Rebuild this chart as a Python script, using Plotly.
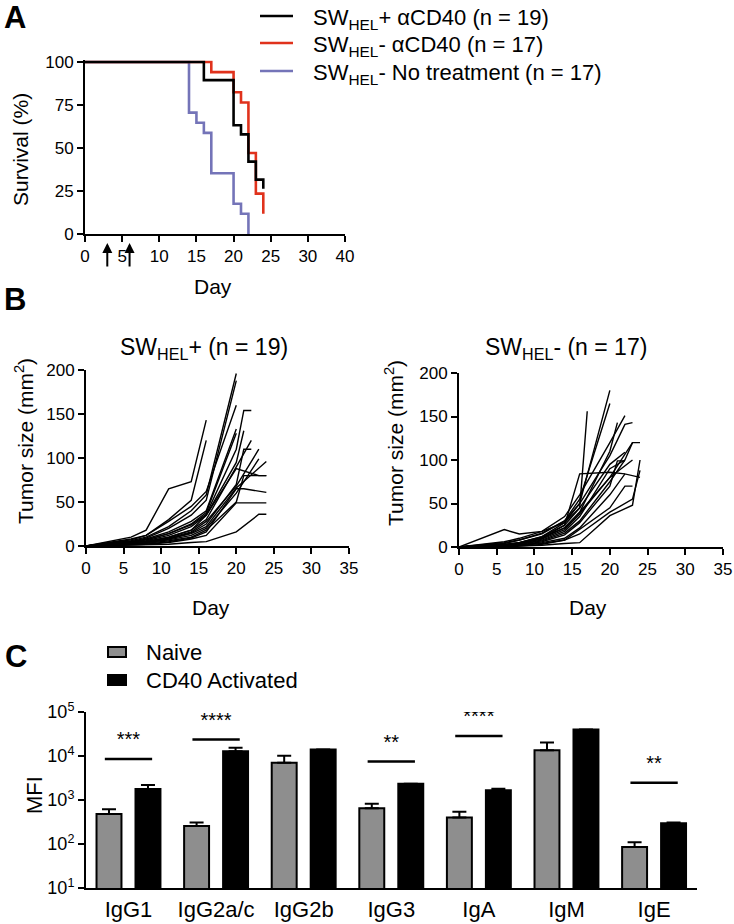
import plotly.graph_objects as go

FONT = "Arial, Liberation Sans, sans-serif"
W, H = 734, 924

# ---------------- Panel A: survival ----------------
black_days = [0, 16, 20, 21, 22, 23, 24]
black_surv = [100, 89.5, 63.2, 57.9, 42.1, 31.6, 26.3]
red_days = [0, 17, 20, 21, 22, 23, 24]
red_surv = [100, 94.1, 82.4, 76.5, 47.1, 23.5, 11.8]
blue_days = [0, 14, 15, 16, 17, 20, 21, 22]
blue_surv = [100, 70.6, 64.7, 58.8, 35.3, 17.6, 11.8, 0]
legend_a = ["SW<sub>HEL</sub>+ αCD40 (n = 19)",
            "SW<sub>HEL</sub>- αCD40 (n = 17)",
            "SW<sub>HEL</sub>- No treatment (n = 17)"]
arrow_days = [3, 6]
a_xtickvals = [0, 5, 10, 15, 20, 25, 30, 35]
a_xticktext = ["0", "5", "10", "15", "20", "25", "30", "40"]
a_ytickvals = [0, 25, 50, 75, 100]

# ---------------- Panel B: tumor growth ----------------
plus_days = [
    [0, 6, 8, 11, 14, 16],
    [0, 6, 8, 11, 14, 16],
    [0, 6, 8, 11, 14, 16, 20],
    [0, 6, 8, 11, 14, 16, 20],
    [0, 6, 8, 11, 14, 16, 20],
    [0, 6, 8, 11, 14, 16, 20],
    [0, 6, 8, 11, 14, 16, 20],
    [0, 6, 8, 11, 14, 16, 20, 21],
    [0, 6, 8, 11, 14, 16, 20, 21, 22],
    [0, 6, 8, 11, 14, 16, 20, 22],
    [0, 6, 8, 11, 14, 16, 20, 21, 22],
    [0, 6, 8, 11, 14, 16, 20, 23],
    [0, 6, 8, 11, 14, 16, 20, 23],
    [0, 6, 8, 11, 14, 16, 20, 24],
    [0, 6, 8, 11, 14, 16, 20, 23, 24],
    [0, 6, 8, 11, 14, 16, 20, 21, 24],
    [0, 6, 8, 11, 14, 16, 20, 21, 24],
    [0, 6, 8, 11, 14, 16, 20, 24],
    [0, 6, 8, 11, 14, 16, 20, 23, 24],
]
plus_sizes = [
    [0, 10, 18, 65, 73, 143],
    [0, 8, 12, 30, 52, 120],
    [0, 6, 10, 22, 40, 58, 196],
    [0, 5, 9, 20, 35, 52, 188],
    [0, 7, 12, 28, 45, 62, 160],
    [0, 4, 8, 16, 28, 40, 133],
    [0, 5, 7, 14, 25, 38, 128],
    [0, 3, 6, 12, 22, 35, 95, 131],
    [0, 4, 7, 14, 24, 36, 110, 154, 154],
    [0, 3, 5, 10, 18, 30, 90, 120],
    [0, 2, 4, 8, 15, 25, 70, 110, 110],
    [0, 3, 5, 9, 16, 28, 68, 110],
    [0, 2, 4, 7, 12, 20, 60, 99],
    [0, 2, 4, 8, 14, 22, 66, 96],
    [0, 3, 5, 10, 18, 35, 88, 80, 80],
    [0, 2, 3, 6, 10, 18, 50, 80, 80],
    [0, 1, 2, 5, 9, 16, 65, 65, 61],
    [0, 1, 2, 4, 8, 12, 49, 49],
    [0, 1, 1, 2, 4, 5, 16, 36, 36],
]
minus_days = [
    [0, 6, 8, 11, 14, 16, 17],
    [0, 6, 8, 11, 14, 16, 20],
    [0, 6, 8, 11, 14, 16, 20],
    [0, 6, 8, 11, 14, 16, 20, 21],
    [0, 6, 8, 11, 14, 16, 20, 22],
    [0, 6, 8, 11, 14, 16, 20, 22],
    [0, 6, 8, 11, 14, 16, 20, 22],
    [0, 6, 8, 11, 14, 16, 20, 22],
    [0, 6, 8, 11, 14, 16, 20, 21, 22],
    [0, 6, 8, 11, 14, 16, 20, 22, 23],
    [0, 6, 8, 11, 14, 16, 20, 22, 23],
    [0, 6, 8, 11, 14, 16, 20, 23],
    [0, 6, 8, 11, 14, 16, 20, 22, 23],
    [0, 6, 8, 11, 14, 16, 20, 23, 24],
    [0, 6, 8, 11, 14, 16, 20, 22, 24],
    [0, 6, 8, 11, 14, 16, 20, 23, 24],
    [0, 6, 8, 11, 14, 16, 20, 23, 24],
]
minus_sizes = [
    [0, 3, 5, 12, 25, 45, 156],
    [0, 2, 5, 12, 28, 50, 180],
    [0, 4, 8, 16, 30, 55, 165],
    [0, 2, 4, 10, 22, 40, 110, 143],
    [0, 6, 10, 18, 35, 60, 120, 151],
    [0, 20, 15, 18, 28, 45, 95, 109],
    [0, 2, 4, 10, 25, 84, 86, 84],
    [0, 1, 3, 8, 18, 35, 90, 100],
    [0, 1, 2, 6, 14, 28, 70, 99, 99],
    [0, 5, 8, 15, 30, 50, 105, 141, 143],
    [0, 1, 3, 7, 16, 30, 75, 100, 120],
    [0, 2, 4, 9, 20, 38, 80, 100],
    [0, 0, 1, 3, 8, 20, 45, 70, 70],
    [0, 3, 5, 11, 22, 40, 80, 120, 120],
    [0, 1, 2, 5, 10, 22, 60, 84, 80],
    [0, 0, 1, 2, 4, 5, 36, 48, 100],
    [0, 1, 2, 4, 8, 15, 40, 55, 88],
]
b_xtickvals = [0, 5, 10, 15, 20, 25, 30, 35]
b_ytickvals = [0, 50, 100, 150, 200]

# ---------------- Panel C: MFI bars ----------------
isotypes = ["IgG1", "IgG2a/c", "IgG2b", "IgG3", "IgA", "IgM", "IgE"]
naive_mfi = [480, 258, 7000, 647, 398, 13550, 86]
naive_err = [135, 49, 3100, 180, 146, 6650, 24]
cd40_mfi = [1775, 12850, 14000, 2345, 1655, 39800, 295]
cd40_err = [415, 2450, 0, 0, 150, 0, 15]
sig_groups = [0, 1, 3, 4, 6]
sig_level = [8600, 23600, 7500, 28600, 2460]
sig_labels = ["***", "****", "**", "****", "**"]
c_ytickvals = [10, 100, 1000, 10000, 100000]
c_yticktext = ["10<sup>1</sup>", "10<sup>2</sup>", "10<sup>3</sup>",
               "10<sup>4</sup>", "10<sup>5</sup>"]


def fx(px):
    return px / W


def fy(py):
    return 1 - py / H


def axis(**kw):
    d = dict(showline=True, linecolor="black", linewidth=2, ticks="outside",
             ticklen=6, tickwidth=2, tickcolor="black", showgrid=False,
             zeroline=False, fixedrange=True, automargin=False,
             tickfont=dict(family=FONT, size=17, color="black"))
    d.update(kw)
    return d


fig = go.Figure()

# Panel A traces
for d, s, c in [(blue_days, blue_surv, "#7474b8"),
                (red_days, red_surv, "#e0321c"),
                (black_days, black_surv, "black")]:
    fig.add_trace(go.Scatter(x=d, y=s, mode="lines", line=dict(color=c, width=2.6, shape="hv"),
                             xaxis="x", yaxis="y", showlegend=False, hoverinfo="skip"))

# Panel B traces
for d, s in zip(plus_days, plus_sizes):
    fig.add_trace(go.Scatter(x=d, y=s, mode="lines", line=dict(color="black", width=1.4),
                             xaxis="x2", yaxis="y2", showlegend=False, hoverinfo="skip"))
for d, s in zip(minus_days, minus_sizes):
    fig.add_trace(go.Scatter(x=d, y=s, mode="lines", line=dict(color="black", width=1.4),
                             xaxis="x3", yaxis="y3", showlegend=False, hoverinfo="skip"))

# Panel C traces
xs = list(range(len(isotypes)))
fig.add_trace(go.Bar(x=xs, y=naive_mfi, xaxis="x4", yaxis="y4", showlegend=False,
                     marker=dict(color="#8e8e8e", line=dict(color="black", width=2)),
                     error_y=dict(type="data", symmetric=False, array=naive_err,
                                  arrayminus=[0] * len(xs), color="black", thickness=2, width=7)))
fig.add_trace(go.Bar(x=xs, y=cd40_mfi, xaxis="x4", yaxis="y4", showlegend=False,
                     marker=dict(color="black", line=dict(color="black", width=2)),
                     error_y=dict(type="data", symmetric=False, array=cd40_err,
                                  arrayminus=[0] * len(xs), color="black", thickness=2, width=7)))
lx, ly = [], []
for g, v in zip(sig_groups, sig_level):
    lx += [g - 0.27, g + 0.27, None]
    ly += [v, v, None]
fig.add_trace(go.Scatter(x=lx, y=ly, mode="lines", line=dict(color="black", width=2.5),
                         xaxis="x4", yaxis="y4", showlegend=False, hoverinfo="skip"))
fig.add_trace(go.Scatter(x=sig_groups, y=[v * 10 ** 0.40 for v in sig_level], mode="text",
                         text=sig_labels, textposition="middle center",
                         textfont=dict(family=FONT, size=20, color="black"),
                         xaxis="x4", yaxis="y4", showlegend=False, hoverinfo="skip"))

layout = dict(
    width=W, height=H, margin=dict(l=0, r=0, t=0, b=0, pad=0, autoexpand=False),
    paper_bgcolor="white", plot_bgcolor="white",
    font=dict(family=FONT, color="black"),
    barmode="group", bargap=0.11, bargroupgap=0.36,
    xaxis=axis(domain=[fx(85), fx(345)], range=[0, 35], anchor="y",
               tickvals=a_xtickvals, ticktext=a_xticktext),
    yaxis=axis(domain=[fy(234), fy(60.3)], range=[0, 101], anchor="x",
               tickvals=a_ytickvals),
    xaxis2=axis(domain=[fx(86), fx(349)], range=[0, 35], anchor="y2", tickvals=b_xtickvals),
    yaxis2=axis(domain=[fy(546), fy(370)], range=[0, 200], anchor="x2", tickvals=b_ytickvals),
    xaxis3=axis(domain=[fx(459), fx(723)], range=[0, 35], anchor="y3", tickvals=b_xtickvals),
    yaxis3=axis(domain=[fy(547), fy(373)], range=[0, 200], anchor="x3", tickvals=b_ytickvals),
    xaxis4=axis(domain=[fx(86), fx(697)], range=[-0.485, 6.49], anchor="y4",
                tickvals=xs, ticktext=isotypes, ticks="", ticklabelstandoff=1,
                tickfont=dict(family=FONT, size=22, color="black")),
    yaxis4=axis(domain=[fy(888), fy(712)], type="log", range=[1, 5], anchor="x4",
                tickvals=c_ytickvals, ticktext=c_yticktext,
                tickfont=dict(family=FONT, size=18, color="black")),
)
fig.update_layout(**layout)

ann = []


def text(t, x, y, size, angle=0, bold=False, xanchor="center", yanchor="middle"):
    ann.append(dict(text=("<b>%s</b>" % t) if bold else t, x=fx(x), y=fy(y), xref="paper",
                    yref="paper", showarrow=False, textangle=angle, xanchor=xanchor,
                    yanchor=yanchor, font=dict(family=FONT, size=size, color="black")))


# panel letters
text("A", 15, 18, 31, bold=True)
text("B", 15, 299, 31, bold=True)
text("C", 16, 656, 31, bold=True)

# Panel A texts
text("Survival (%)", 20, 150, 21, angle=-90)
text("Day", 213, 287, 21)
colors_a = ["black", "#e0321c", "#7474b8"]
rows_a = [16, 43, 71]
shapes = []
for lab, col, ry in zip(legend_a, colors_a, rows_a):
    shapes.append(dict(type="line", xref="paper", yref="paper", x0=fx(260), x1=fx(293),
                       y0=fy(ry), y1=fy(ry), line=dict(color=col, width=2.6)))
    text(lab, 311, ry + 3, 22, xanchor="left")

for d in arrow_days:
    ann.append(dict(text="", x=d, y=fy(243), xref="x", yref="paper", showarrow=True,
                    ax=0, ay=25, arrowhead=2, arrowsize=1, arrowwidth=2, arrowcolor="black"))

# Panel B texts
text("SW<sub>HEL</sub>+ (n = 19)", 204, 348, 23)
text("SW<sub>HEL</sub>- (n = 17)", 566, 348, 23)
text("Tumor size (mm<sup>2</sup>)", 24, 441, 21, angle=-90)
text("Tumor size (mm<sup>2</sup>)", 394, 443, 21, angle=-90)
text("Day", 211, 607, 21)
text("Day", 588, 607, 21)

# Panel C texts
text("MFI", 34, 795, 22, angle=-90)
shapes.append(dict(type="rect", xref="paper", yref="paper", x0=fx(108), x1=fx(126),
                   y0=fy(657), y1=fy(647), fillcolor="#8e8e8e", line=dict(color="black", width=2)))
shapes.append(dict(type="rect", xref="paper", yref="paper", x0=fx(108), x1=fx(126),
                   y0=fy(685), y1=fy(675), fillcolor="black", line=dict(color="black", width=2)))
text("Naive", 144, 652, 22, xanchor="left")
text("CD40 Activated", 144, 680, 22, xanchor="left")

fig.update_layout(annotations=ann, shapes=shapes)
fig.write_html("out.html", config={"displayModeBar": False},
               post_script="document.body.style.margin='0px';"
                           "document.body.style.overflow='hidden';")
